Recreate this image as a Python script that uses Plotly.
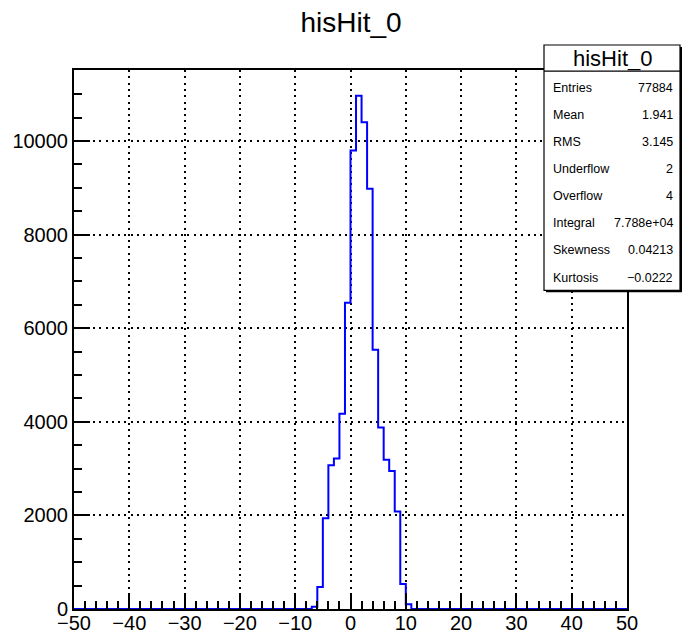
import plotly.graph_objects as go

# ---- data ----
x_min, x_max = -50, 50
bin_lows = [-7, -6, -5, -4, -3, -2, -1, 0, 1, 2, 3, 4, 5, 6, 7, 8, 9, 10]
counts = [50, 470, 1942, 3072, 3216, 4170, 6547, 9800, 10970, 10400, 8980,
          5540, 3880, 3187, 2950, 2086, 532, 100]

stat_names = ["Entries", "Mean", "RMS", "Underflow", "Overflow", "Integral",
              "Skewness", "Kurtosis"]
stat_values = ["77884", "1.941", "3.145", "2", "4", "7.788e+04", "0.04213",
               "\u22120.0222"]
title = "hisHit_0"

# ---- build full step histogram (1 unit bins) ----
edges = list(range(x_min, x_max + 1))
full = {e: 0 for e in edges[:-1]}
for b, c in zip(bin_lows, counts):
    full[b] = c
xs = edges[:-1] + [x_max]
ys = [full[e] for e in edges[:-1]] + [full[edges[-2]]]

W, H = 683, 636
L, R, T, B = 74, 627, 69.5, 609


def px(x):
    return (x - L) / (R - L)


def py(y):
    return (B - y) / (B - T)


font = "Liberation Sans, Arial, Helvetica, sans-serif"

fig = go.Figure()
fig.add_trace(go.Scatter(x=xs, y=ys, mode="lines", line=dict(shape="hv", color="#0000ff", width=2),
                         hoverinfo="skip", showlegend=False))

ymax = 1.05 * max(counts)
axis_common = dict(showline=True, linecolor="black", linewidth=2, mirror=True, automargin=False,
                   ticks="inside", tickcolor="black", tickwidth=1.5, ticklen=16,
                   showgrid=True, gridcolor="black", gridwidth=1.5, griddash="2px,4.3px",
                   zeroline=False, tickfont=dict(family=font, size=20, color="black"))
fig.update_xaxes(range=[x_min, x_max], dtick=10, tick0=0, ticklabelstandoff=-5,
                 minor=dict(dtick=2, ticks="inside", ticklen=8, tickcolor="black", tickwidth=1.5, showgrid=False),
                 **axis_common)
fig.update_yaxes(range=[0, ymax], dtick=2000, tick0=0, tickformat="d",
                 minor=dict(dtick=500, ticks="inside", ticklen=8, tickcolor="black", tickwidth=1.5, showgrid=False),
                 **axis_common)

# stats box
bx0, bx1, by0, by1, bsep = 544, 680, 44.5, 290, 70.7
shapes = [
    dict(type="rect", xref="paper", yref="paper", x0=px(bx0 + 2), x1=px(bx1 + 2), y0=py(by1 + 2), y1=py(by0 + 2),
         fillcolor="black", line=dict(width=0)),
    dict(type="rect", xref="paper", yref="paper", x0=px(bx0), x1=px(bx1), y0=py(by1), y1=py(by0),
         fillcolor="white", line=dict(color="black", width=1.2)),
    dict(type="line", xref="paper", yref="paper", x0=px(bx0), x1=px(bx1), y0=py(bsep), y1=py(bsep),
         line=dict(color="black", width=1.2)),
]
annotations = [
    dict(text=title, xref="paper", yref="paper", x=px((bx0 + bx1) / 2), y=py((by0 + bsep) / 2),
         xanchor="center", yanchor="middle", showarrow=False, font=dict(family=font, size=22, color="black")),
]
row_y = [87.5, 115, 141.5, 169, 196, 222.5, 250, 277.3]
for name, val, yy in zip(stat_names, stat_values, row_y):
    annotations.append(dict(text=name, xref="paper", yref="paper", x=px(551), y=py(yy), xanchor="left",
                            yanchor="middle", showarrow=False, font=dict(family=font, size=12.5, color="black")))
    annotations.append(dict(text=val, xref="paper", yref="paper", x=px(675.5), y=py(yy), xanchor="right",
                            yanchor="middle", showarrow=False, font=dict(family=font, size=12.5, color="black")))

fig.update_layout(
    width=W, height=H,
    margin=dict(l=L, r=W - R, t=T, b=H - B, pad=0, autoexpand=False),
    paper_bgcolor="white", plot_bgcolor="white",
    title=dict(text=title, x=px(351), xref="paper", y=1 - 22 / H, yref="container",
               xanchor="center", yanchor="middle", font=dict(family=font, size=28, color="black")),
    shapes=shapes, annotations=annotations, showlegend=False,
)

fig.write_html("out.html", config={"displayModeBar": False},
               post_script="document.body.style.margin='0';document.body.style.overflow='hidden';")
